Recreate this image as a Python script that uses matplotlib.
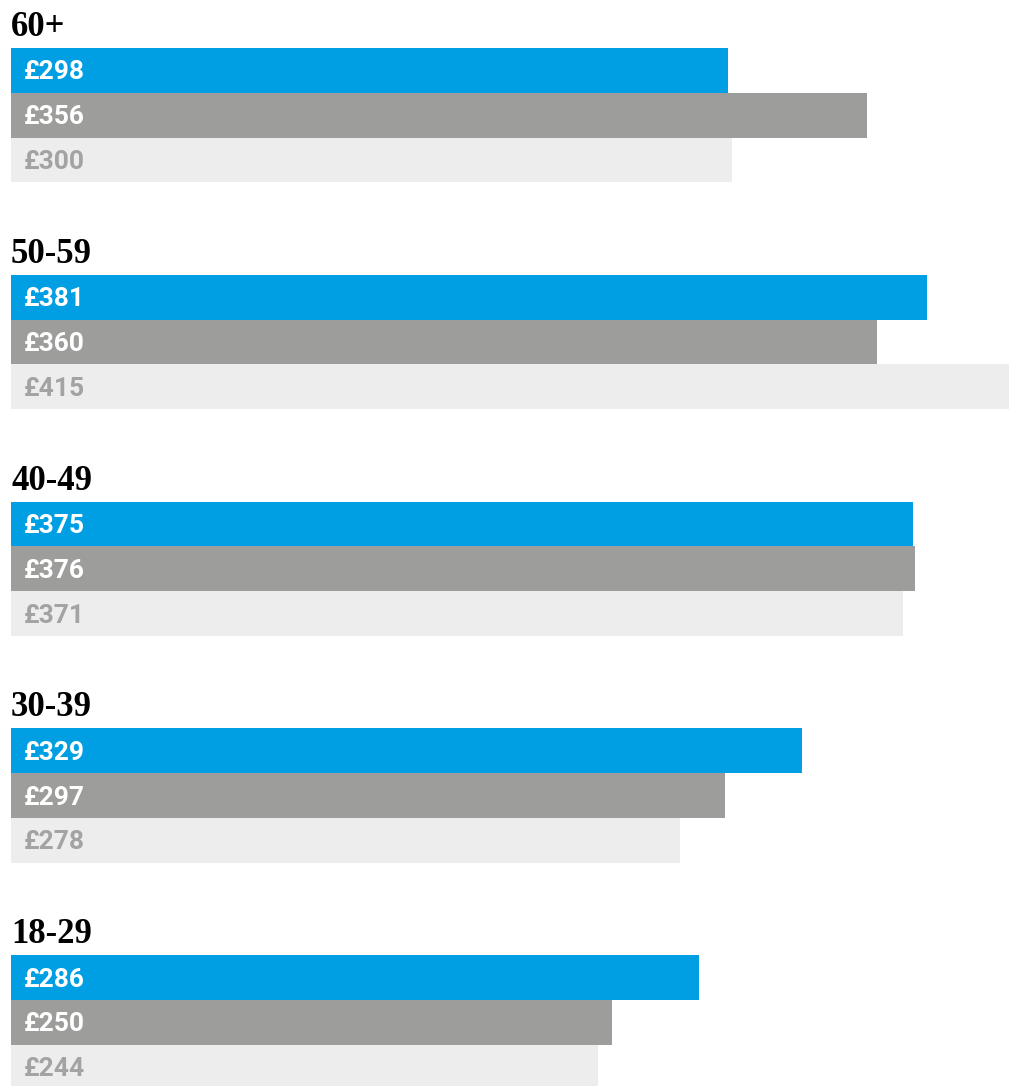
import matplotlib.pyplot as plt

# spending by age band, three series per band
groups = ['60+', '50-59', '40-49', '30-39', '18-29']
series_a = [298, 381, 375, 329, 286]
series_b = [356, 360, 376, 297, 250]
series_c = [300, 415, 371, 278, 244]

bar_colors = ['#009FE3', '#9D9D9C', '#EDEDED']
text_colors = ['white', 'white', '#A3A3A3']

fig = plt.figure(figsize=(10.16, 10.86), dpi=100)
ax = fig.add_axes([11 / 1016, 0, 998 / 1016, 1])
ax.set_xlim(0, 415)
ax.set_ylim(1086, 0)
ax.axis('off')

group_top = 48
group_step = 226.8
bar_h = 44.8

for g, name in enumerate(groups):
    top = group_top + g * group_step
    ax.text(0, top - 12, name, fontsize=25, fontweight='bold',
            family='Liberation Serif', va='baseline', ha='left')
    for i, vals in enumerate([series_a, series_b, series_c]):
        y = top + i * bar_h
        ax.barh(y, vals[g], height=bar_h, align='edge', left=0,
                color=bar_colors[i], linewidth=0)
        ax.text(5.4, y + bar_h / 2 + 2, '£%d' % vals[g], fontsize=19,
                fontweight='bold', family='Roboto', color=text_colors[i],
                va='center', ha='left')

fig.savefig('out.png', dpi=100)
